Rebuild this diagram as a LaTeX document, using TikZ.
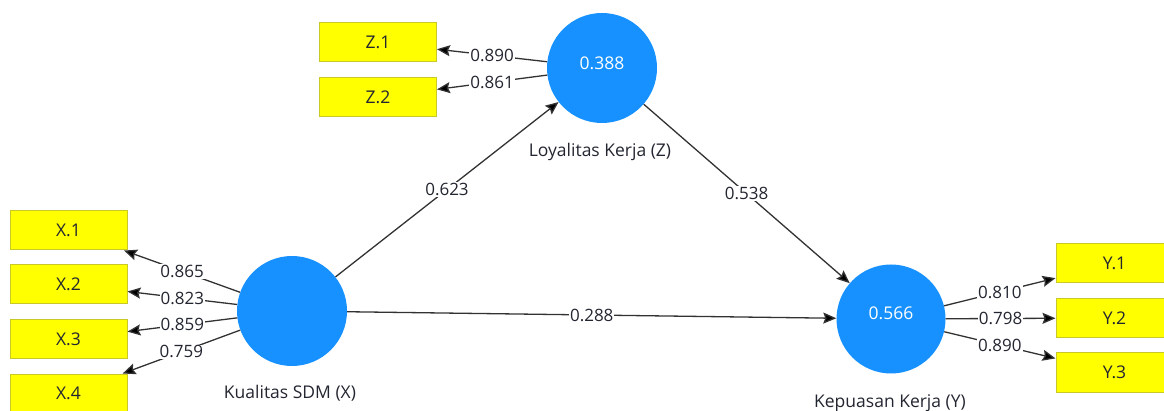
\documentclass[tikz,border=0pt]{standalone}
\usepackage{fontspec}
\setmainfont{Open Sans}
\usetikzlibrary{arrows.meta}
\definecolor{lvblue}{RGB}{22,145,255}
\definecolor{indfill}{RGB}{255,255,0}
\definecolor{inddraw}{RGB}{200,200,40}
\definecolor{pathgray}{RGB}{50,50,50}
\definecolor{txtdark}{RGB}{35,38,48}
\tikzset{
  latent/.style={circle, fill=lvblue, minimum size=110pt, inner sep=0pt},
  rsq/.style={text=white, font=\fontsize{17.5}{20}\selectfont},
  indicator/.style={rectangle, fill=indfill, draw=inddraw, line width=1pt,
    minimum width=117pt, minimum height=39pt, inner sep=0pt,
    text=txtdark, font=\fontsize{17.5}{20}\selectfont},
  lvname/.style={text=txtdark, font=\fontsize{17.5}{20}\selectfont},
  pathline/.style={draw=pathgray, line width=1.3pt,
    -{Stealth[length=13pt, width=11pt, inset=2pt, fill=black]}},
  coef/.style={fill=white, inner sep=1pt, text=txtdark,
    font=\fontsize{17}{20}\selectfont, pos=0.5}
}
\begin{document}
\begin{tikzpicture}[x=1pt, y=-1pt]
  \useasboundingbox (0,0) rectangle (1164,411);
  \clip (0,0) rectangle (1164,411);

  % latent variables
  \node[latent] (X) at (292,311) {};
  \node[latent] (Z) at (602,68) {};
  \node[latent, minimum size=109pt] (Y) at (891,319) {};
  \node[rsq] (Zr) at (602,63) {0.388};
  \node[rsq] (Yr) at (891,313) {0.566};
  \node[lvname] (Xn) at (290,393) {Kualitas SDM (X)};
  \node[lvname] (Zn) at (600,152) {Loyalitas Kerja (Z)};
  \node[lvname] (Yn) at (890,403) {Kepuasan Kerja (Y)};

  % indicators
  \node[indicator] (x1) at (68.5,230.5) {X.1};
  \node[indicator] (x2) at (68.5,284.5) {X.2};
  \node[indicator] (x3) at (68.5,339) {X.3};
  \node[indicator] (x4) at (68.5,393.5) {X.4};
  \node[indicator] (z1) at (378,42.5) {Z.1};
  \node[indicator] (z2) at (378,97) {Z.2};
  \node[indicator] (y1) at (1114.5,263.5) {Y.1};
  \node[indicator] (y2) at (1114.5,318) {Y.2};
  \node[indicator] (y3) at (1114.5,372.5) {Y.3};

  % outer loadings
  \draw[pathline] (X) -- node[coef] {0.865} (x1);
  \draw[pathline] (X) -- node[coef] {0.823} (x2);
  \draw[pathline] (X) -- node[coef] {0.859} (x3);
  \draw[pathline] (X) -- node[coef] {0.759} (x4);
  \draw[pathline] (Z) -- node[coef] {0.890} (z1);
  \draw[pathline] (Z) -- node[coef] {0.861} (z2);
  \draw[pathline] (Y) -- node[coef] {0.810} (y1);
  \draw[pathline] (Y) -- node[coef] {0.798} (y2);
  \draw[pathline] (Y) -- node[coef] {0.890} (y3);

  % structural paths
  \draw[pathline] (X) -- node[coef] {0.623} (Z);
  \draw[pathline] (Z) -- node[coef] {0.538} (Y);
  \draw[pathline] (X) -- node[coef] {0.288} (Y);
\end{tikzpicture}
\end{document}
